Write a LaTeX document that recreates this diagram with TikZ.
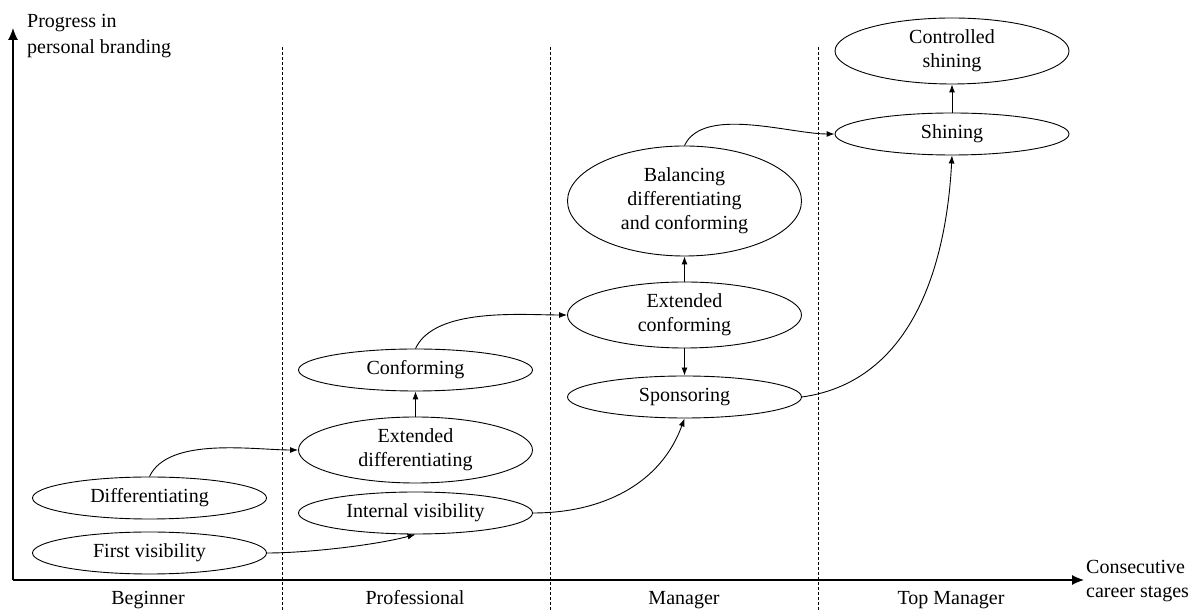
\documentclass[tikz,border=0pt]{standalone}
\usepackage{fontspec}
\setmainfont{Liberation Serif}
\usetikzlibrary{arrows.meta,shapes.geometric}
\begin{document}
\begin{tikzpicture}[x=1pt,y=1pt,
  state/.style={ellipse,draw,line width=0.9pt,inner sep=0pt,minimum width=234pt,align=center,font=\fontsize{20}{24}\selectfont},
  s1/.style={state,minimum height=42pt},
  s2/.style={state,minimum height=66pt},
  s3/.style={state,minimum height=110pt},
  conn/.style={line width=0.9pt,-{Latex[length=8pt,width=6pt]}},
  axisline/.style={line width=1.2pt,-{Latex[length=12pt,width=10pt]}},
  divider/.style={dash pattern=on 3pt off 2pt,line width=0.8pt},
  lab/.style={font=\fontsize{20}{26}\selectfont,inner sep=0pt,align=left},
  stage/.style={font=\fontsize{20}{24}\selectfont,inner sep=0pt,anchor=base}
]
\useasboundingbox (0,0) rectangle (1201,612);

% axes
\coordinate (O) at (13,32);
\coordinate (Ytip) at (13,584);
\coordinate (Xtip) at (1084,32);
\draw[axisline] (O) -- (Ytip);
\draw[axisline] (O) -- (Xtip);
\node[lab,anchor=north west] (ylab) at (27,598) {Progress in\\personal branding};
\node[lab,anchor=north west,font=\fontsize{20}{24}\selectfont] (xlab) at (1086,52) {Consecutive\\career stages};

% dividers
\coordinate (d1t) at (282,565); \coordinate (d1b) at (282,0);
\coordinate (d2t) at (550,565); \coordinate (d2b) at (550,0);
\coordinate (d3t) at (818,565); \coordinate (d3b) at (818,0);
\draw[divider] (d1t) -- (d1b);
\draw[divider] (d2t) -- (d2b);
\draw[divider] (d3t) -- (d3b);

% stage labels
\node[stage] (beg) at (148,7) {Beginner};
\node[stage] (pro) at (415,7) {Professional};
\node[stage] (man) at (684,7) {Manager};
\node[stage] (top) at (951,7) {Top Manager};

% states
\node[s1] (fv) at (149.5,59) {First visibility};
\node[s1] (d) at (149.5,114) {Differentiating};
\node[s1] (iv) at (415.5,99) {Internal visibility};
\node[s2] (ed) at (415.5,162) {Extended\\differentiating};
\node[s1] (c) at (415.5,242) {Conforming};
\node[s1] (sp) at (684.5,215) {Sponsoring};
\node[s2] (ec) at (684.5,297) {Extended\\conforming};
\node[s3] (b) at (684.5,411) {Balancing\\differentiating\\and conforming};
\node[s1] (sh) at (952,478) {Shining};
\node[s2] (cs) at (952,561) {Controlled\\shining};

% connectors
\draw[conn] (fv.east) to[out=0,in=-165,looseness=0.7] (iv.south);
\draw[conn] (d.north) to[out=65,in=180,looseness=0.75] (ed.west);
\draw[conn] (ed.north) -- (c.south);
\draw[conn] (iv.east) to[out=0,in=-110] (sp.south);
\draw[conn] (c.north) to[out=65,in=180,looseness=0.75] (ec.west);
\draw[conn] (ec.north) -- (b.south);
\draw[conn] (ec.south) -- (sp.north);
\draw[conn] (b.north) to[out=65,in=180,looseness=0.75] (sh.west);
\draw[conn] (sp.east) to[out=8,in=-93] (sh.south);
\draw[conn] (sh.north) -- (cs.south);
\end{tikzpicture}
\end{document}
